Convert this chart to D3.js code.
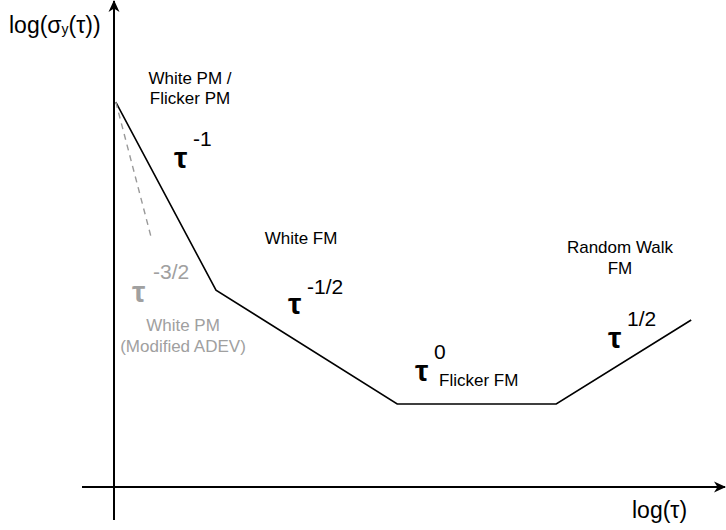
<!DOCTYPE html>
<html><head><meta charset="utf-8">
<script src="https://cdn.jsdelivr.net/npm/d3@7"></script>
<style>body{margin:0;background:#fff}svg{display:block}text{font-family:"Liberation Sans",Arial,sans-serif}</style>
</head><body>
<script>
// Data (log-log units)
const logTau   = [0.03, 1.7, 4.72, 7.37, 9.62];
const logSigma = [8.02, 4.10, 1.73, 1.73, 3.48];
const dashTau   = [0.03, 0.63];
const dashSigma = [8.02, 5.15];

const W = 726, H = 530;
const svg = d3.select("body").append("svg").attr("width", W).attr("height", H);
const x = d3.scaleLinear().domain([0, 10]).range([114, 714]);
const y = d3.scaleLinear().domain([0, 10]).range([487, 7]);

const defs = svg.append("defs");
defs.append("marker").attr("id","arr").attr("viewBox","0 0 12 12")
  .attr("refX",11).attr("refY",6).attr("markerWidth",12).attr("markerHeight",12)
  .attr("markerUnits","userSpaceOnUse").attr("orient","auto")
  .append("path").attr("d","M0,0.5 L12,6 L0,11.5 L3.5,6 z").attr("fill","#000");

// axes
svg.append("line").attr("x1",82).attr("y1",y(0)).attr("x2",725).attr("y2",y(0))
  .attr("stroke","#000").attr("stroke-width",2).attr("marker-end","url(#arr)");
svg.append("line").attr("x1",x(0)).attr("y1",520).attr("x2",x(0)).attr("y2",1)
  .attr("stroke","#000").attr("stroke-width",2).attr("marker-end","url(#arr)");

const line = d3.line().x(d=>x(d[0])).y(d=>y(d[1]));
svg.append("path").datum(logTau.map((t,i)=>[t,logSigma[i]]))
  .attr("d",line).attr("fill","none").attr("stroke","#000").attr("stroke-width",1.6);
svg.append("path").datum(dashTau.map((t,i)=>[t,dashSigma[i]]))
  .attr("d",line).attr("fill","none").attr("stroke","#999").attr("stroke-width",1.4)
  .attr("stroke-dasharray","6,5");

function txt(px,py,s,size,opts={}){
  const t = svg.append("text").attr("x",px).attr("y",py).text(s)
    .attr("font-size",size).attr("fill",opts.fill||"#000");
  if(opts.anchor) t.attr("text-anchor",opts.anchor);
  if(opts.bold) t.attr("font-weight","bold");
  return t;
}
const GRAY = "#a0a0a0";
// axis titles
const yl = svg.append("text").attr("x",9).attr("y",33).attr("font-size",23);
yl.append("tspan").text("log(σ");
yl.append("tspan").text("y").attr("font-size",14).attr("dy",1);
yl.append("tspan").text("(τ))").attr("dy",-1);
txt(632,518,"log(τ)",23);

// region labels
txt(190,84,"White PM /",17,{anchor:"middle"});
txt(190,104,"Flicker PM",17,{anchor:"middle"});
txt(301,244,"White FM",17,{anchor:"middle"});
txt(620,253,"Random Walk",17,{anchor:"middle"});
txt(620,274,"FM",17,{anchor:"middle"});
txt(439,386,"Flicker FM",17);
txt(183,331,"White PM",17,{anchor:"middle",fill:GRAY});
txt(183,352,"(Modified ADEV)",17,{anchor:"middle",fill:GRAY});

// slope labels
function tau(px,py,exp,ex,ey,fill){
  txt(px,py,"τ",30,{bold:true,fill:fill});
  txt(ex,ey,exp,21,{fill:fill});
}
tau(174,168,"-1",193,146,"#000");
tau(288,314,"-1/2",307,294,"#000");
tau(415,381,"0",434,359,"#000");
tau(608,348,"1/2",627,326,"#000");
tau(132,302,"-3/2",153,279,GRAY);
</script>
</body></html>
